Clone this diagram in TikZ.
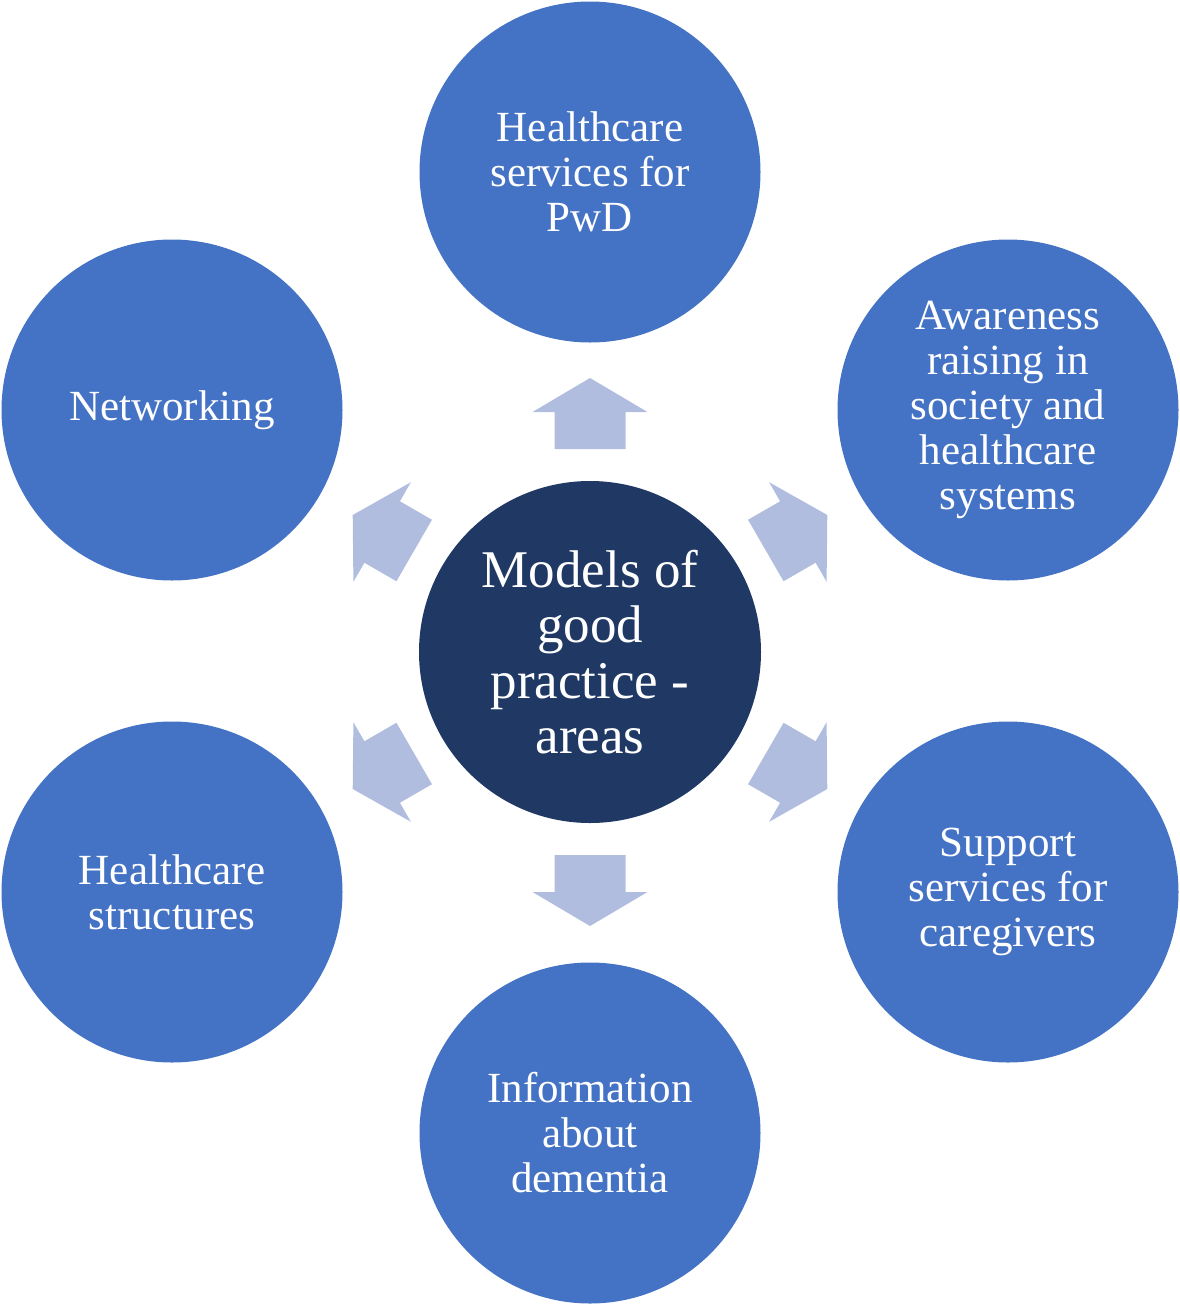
\documentclass[tikz,border=0pt]{standalone}
\usepackage{fontspec}
\setmainfont{Liberation Serif}
\definecolor{outerblue}{HTML}{4472C4}
\definecolor{innerblue}{HTML}{203864}
\definecolor{arrowblue}{RGB}{176,189,223}
\tikzset{
  outer/.style={circle, fill=outerblue, minimum size=341pt, inner sep=0pt, text=white, align=center,
    font=\fontsize{43}{45}\selectfont},
  inner/.style={circle, fill=innerblue, minimum size=342pt, inner sep=0pt, text=white, align=center,
    font=\fontsize{53}{55.5}\selectfont},
  blockarrow/.style={fill=arrowblue, draw=none}
}
\begin{document}
\begin{tikzpicture}[x=1pt,y=-1pt]
\useasboundingbox (0,0) rectangle (1180,1307);
\node[inner] (c) at (590,652) {Models of\\good\\practice -\\areas};
\node[outer] (n1) at (590,172) {Healthcare\\services for\\PwD};
\node[outer] (n2) at (1008,410) {Awareness\\raising in\\society and\\healthcare\\systems};
\node[outer] (n3) at (1008,892) {Support\\services for\\caregivers};
\node[outer] (n4) at (590,1133) {Information\\about\\dementia};
\node[outer] (n5) at (172,892) {Healthcare\\structures};
\node[outer] (n6) at (172,410) {Networking};
\foreach \a in {90,30,-30,-90,-150,150}{
  \begin{scope}[shift={(c.center)}, rotate=\a]
    \fill[blockarrow] (203,-35.5) -- (240,-35.5) -- (240,-57.5) -- (274,0) -- (240,57.5) -- (240,35.5) -- (203,35.5) -- cycle;
  \end{scope}
}
\end{tikzpicture}
\end{document}
